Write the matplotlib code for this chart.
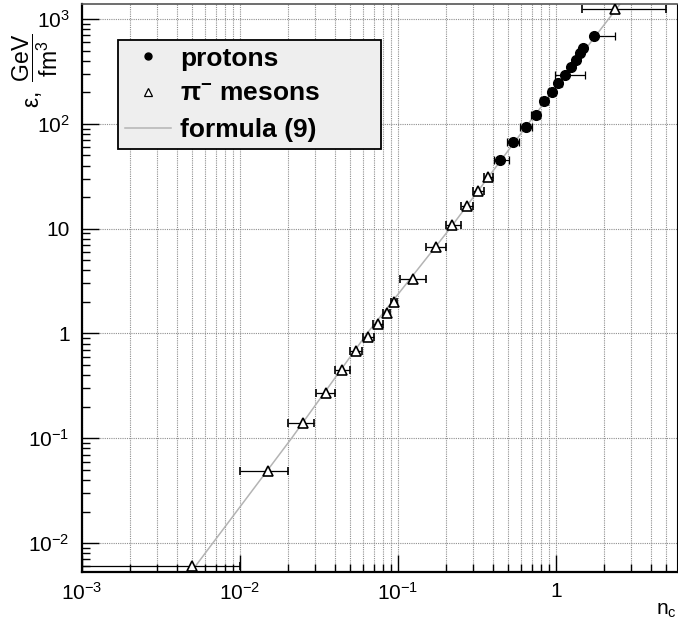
import numpy as np
import matplotlib
matplotlib.use("Agg")
import matplotlib.pyplot as plt
from matplotlib.ticker import FixedLocator, FixedFormatter, LogLocator, NullFormatter
from matplotlib.lines import Line2D

# Fuentes tipo Helvetica (como ROOT)
plt.rcParams['font.family'] = ['Liberation Sans', 'DejaVu Sans']
plt.rcParams['mathtext.fontset'] = 'custom'
plt.rcParams['mathtext.rm'] = 'Liberation Sans'
plt.rcParams['mathtext.it'] = 'Liberation Sans:italic'
plt.rcParams['mathtext.bf'] = 'Liberation Sans:bold'
plt.rcParams['mathtext.default'] = 'regular'

# Datos leidos del grafico
# protones
p_n = [0.443, 0.537, 0.643, 0.746, 0.839, 0.94, 1.034, 1.14, 1.24, 1.34, 1.42, 1.49, 1.74]
p_eps = [44.7, 66.4, 94.2, 122, 166, 200, 244, 293, 351, 408, 471, 533, 689]
p_xlo = [0.04, 0.045, 0.05, 0.05, 0.05, 0.05, 0.05, 0.15, 0.05, 0.05, 0.05, 0.05, 0.0]
p_xhi = [0.06, 0.05, 0.06, 0.05, 0.05, 0.05, 0.05, 0.38, 0.05, 0.05, 0.05, 0.05, 0.63]

# mesones pi-
pi_n = [0.00496, 0.01503, 0.0249, 0.035, 0.044, 0.0542, 0.0649, 0.075, 0.0848, 0.0947,
        0.125, 0.174, 0.221, 0.272, 0.322, 0.373, 2.36]
pi_eps = [0.0060, 0.0485, 0.139, 0.272, 0.448, 0.674, 0.93, 1.22, 1.57, 1.99,
          3.34, 6.7, 10.9, 16.6, 23.0, 30.8, 1237]
pi_xlo = [0.0040, 0.00503, 0.0047, 0.0048, 0.0042, 0.0045, 0.0049, 0.0053, 0.004, 0.004,
          0.022, 0.024, 0.0205, 0.0214, 0.022, 0.023, 0.89]
pi_xhi = [0.00504, 0.00517, 0.0047, 0.0048, 0.0057, 0.0047, 0.0057, 0.0056, 0.004, 0.004,
          0.025, 0.026, 0.0296, 0.027, 0.028, 0.027, 2.64]

# formula (9), puntos
f_n = [0.0049, 0.0212, 0.0637, 0.213, 0.667, 2.6]
f_eps = [0.0053, 0.1, 1.0, 10.0, 100.0, 1450.0]

# ticks
x_ticks = [1e-3, 1e-2, 1e-1, 1]
x_labels = [r'$10^{-3}$', r'$10^{-2}$', r'$10^{-1}$', '1']
y_ticks = [1e-2, 1e-1, 1, 10, 100, 1000]
y_labels = [r'$10^{-2}$', r'$10^{-1}$', '1', '10', r'$10^{2}$', r'$10^{3}$']

W, H = 678, 626
fig = plt.figure(figsize=(W / 100, H / 100), dpi=100)
ax = fig.add_axes([82 / W, (H - 572) / H, (676.6 - 82) / W, (572 - 4) / H])

ax.set_xscale('log')
ax.set_yscale('log')
ax.set_xlim(1e-3, 5.8)
ax.set_ylim(0.0053, 1390)

# grilla: vertical en todas las divisiones, horizontal solo en decadas
gcol = '#8f8f8f'
ax.grid(True, which='major', axis='both', color=gcol, lw=0.8, ls=(0, (1, 1)))
ax.grid(True, which='minor', axis='x', color=gcol, lw=0.8, ls=(0, (1, 1)))
ax.set_axisbelow(True)

ax.plot(f_n, f_eps, color='#b4b4b4', lw=1.1, zorder=2)

ax.errorbar(pi_n, pi_eps, xerr=[pi_xlo, pi_xhi], fmt='^', ms=7.5, mfc='white', mec='black',
            mew=1.2, ecolor='black', elinewidth=0.9, capsize=3, capthick=0.9, zorder=3)
ax.errorbar(p_n, p_eps, xerr=[p_xlo, p_xhi], fmt='o', ms=7, mfc='black', mec='black',
            ecolor='black', elinewidth=0.9, capsize=3, capthick=0.9, zorder=4)

ax.xaxis.set_major_locator(FixedLocator(x_ticks))
ax.xaxis.set_major_formatter(FixedFormatter(x_labels))
ax.yaxis.set_major_locator(FixedLocator(y_ticks))
ax.yaxis.set_major_formatter(FixedFormatter(y_labels))
ax.xaxis.set_minor_locator(LogLocator(base=10, subs=np.arange(2, 10), numticks=20))
ax.yaxis.set_minor_locator(LogLocator(base=10, subs=np.arange(2, 10), numticks=20))
ax.xaxis.set_minor_formatter(NullFormatter())
ax.yaxis.set_minor_formatter(NullFormatter())

ax.tick_params(which='both', direction='in', top=False, right=False, colors='black')
ax.tick_params(axis='x', which='major', length=12, width=1, labelsize=15, pad=7)
ax.tick_params(axis='y', which='major', length=12, width=1, labelsize=15, pad=9)
ax.tick_params(which='minor', length=6, width=1)

for s in ['left', 'bottom']:
    ax.spines[s].set_linewidth(1.6)
ax.spines['top'].set_linewidth(1.2)
ax.spines['top'].set_color('#555555')

# titulos de ejes
fig.text(35 / W, 1 - 71 / H, r'$\epsilon,\ \dfrac{GeV}{fm^{3}}$', rotation=90,
         ha='center', va='center', fontsize=16.5)
fig.text(677 / W, 1 - 610 / H, r'n$_{c}$', ha='right', va='center', fontsize=15)

# leyenda
handles = [
    Line2D([], [], ls='none', marker='o', ms=5, mfc='black', mec='black'),
    Line2D([], [], ls='none', marker='^', ms=6, mfc='white', mec='black', mew=0.9),
    Line2D([], [], color='#b4b4b4', lw=1.1),
]
labels = ['protons', r'$\pi^{-}$ mesons', 'formula (9)']
leg = ax.legend(handles, labels, loc='upper left',
                bbox_to_anchor=(118 / W, 1 - 40 / H, (381 - 118) / W, 0.0),
                bbox_transform=fig.transFigure, mode='expand', borderaxespad=0,
                fancybox=False, framealpha=1, facecolor='#eeeeee', edgecolor='black',
                prop={'weight': 'bold', 'size': 19}, handlelength=1.75,
                handletextpad=0.35, labelspacing=0.45, borderpad=0.25)
leg.get_frame().set_linewidth(1.3)

fig.savefig('out.png', dpi=100)
